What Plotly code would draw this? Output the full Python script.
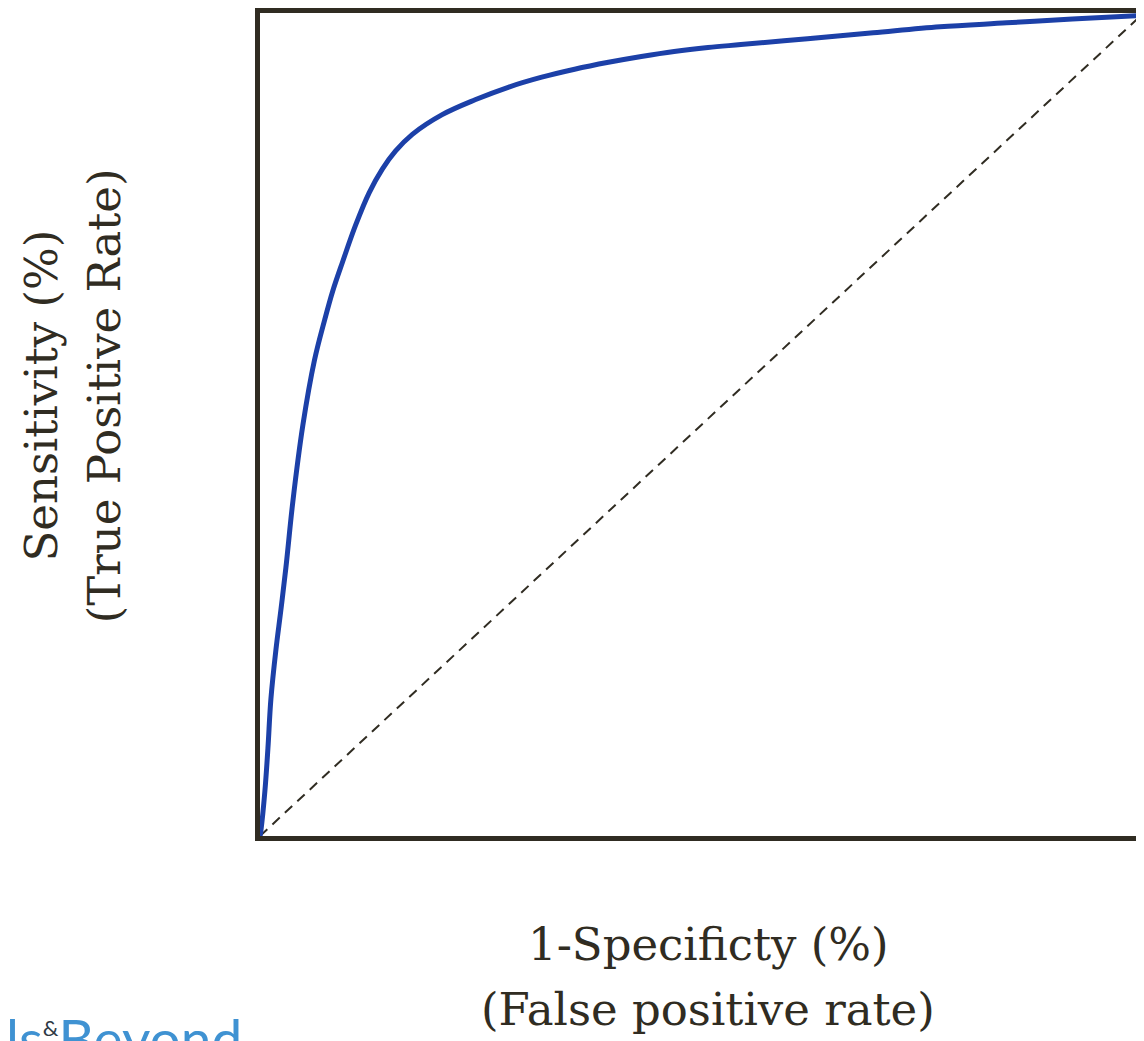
import plotly.graph_objects as go

# ROC curve (percent)
fpr = [0, 0.11, 0.56, 0.90, 1.24, 1.81, 2.37, 2.94, 3.73, 4.86, 6.18, 7.31, 8.25,
       9.38, 10.85, 12.40, 13.90, 15.37, 17.29, 20.68, 24.41, 28.25, 31.98, 35.71,
       39.55, 43.28, 47.01, 50.85, 54.58, 62.15, 69.60, 77.18, 84.75, 92.20, 100]
tpr = [0, 0.72, 5.53, 10.70, 16.72, 22.73, 27.54, 32.71, 40.77, 50.03, 57.97, 62.78,
       66.39, 69.99, 74.44, 78.41, 81.30, 83.46, 85.51, 87.91, 89.72, 91.28, 92.48,
       93.45, 94.29, 95.00, 95.61, 96.09, 96.45, 97.17, 97.89, 98.62, 99.10, 99.58, 100]
chance = [0, 100]

ink = "#302c22"
blue = "#1c40a8"
serif = "DejaVu Serif"

fig = go.Figure()
# chance line
fig.add_trace(go.Scatter(x=chance, y=chance, mode="lines",
                         line=dict(color=ink, width=2, dash="10px,7px"),
                         showlegend=False, hoverinfo="skip"))
# ROC curve
fig.add_trace(go.Scatter(x=fpr, y=tpr, mode="lines", line_shape="spline",
                         line=dict(color=blue, width=5),
                         showlegend=False))

fig.update_xaxes(range=[0, 100.34], showgrid=False, zeroline=False, showticklabels=False,
                 ticks="", showline=True, linecolor=ink, linewidth=5, mirror=True)
fig.update_yaxes(range=[0, 100.3], showgrid=False, zeroline=False, showticklabels=False,
                 ticks="", showline=True, linecolor=ink, linewidth=5, mirror=False)

# axis titles
fig.add_annotation(text="1-Specificty (%)", xref="paper", yref="paper", x=0.507, y=-0.167,
                   showarrow=False, font=dict(family=serif, size=45, color=ink))
fig.add_annotation(text="(False positive rate)", xref="paper", yref="paper", x=0.507, y=-0.246,
                   showarrow=False, font=dict(family=serif, size=45, color=ink))
fig.add_annotation(text="Sensitivity (%)", xref="paper", yref="paper", x=-0.279, y=0.535,
                   textangle=-90, showarrow=False, font=dict(family=serif, size=45, color=ink))
fig.add_annotation(text="(True Positive Rate)", xref="paper", yref="paper", x=-0.208, y=0.535,
                   textangle=-90, showarrow=False, font=dict(family=serif, size=45, color=ink))
# cut-off logo at the bottom left
fig.add_annotation(text="ls<sup><span style='color:#2f3a45;font-size:22px'>&amp;</span></sup>Beyond",
                   xref="paper", yref="paper", x=-0.29, y=-0.2027, xanchor="left", yanchor="top",
                   showarrow=False, font=dict(family="Lato", size=55, color="#3f92d2"))

# the page body adds 8px round the figure, so the figure is 8px smaller
fig.update_layout(width=1136, height=1033, margin=dict(l=252, r=0, t=2, b=204.5),
                  plot_bgcolor="white", paper_bgcolor="white")

fig.write_html("out.html")
